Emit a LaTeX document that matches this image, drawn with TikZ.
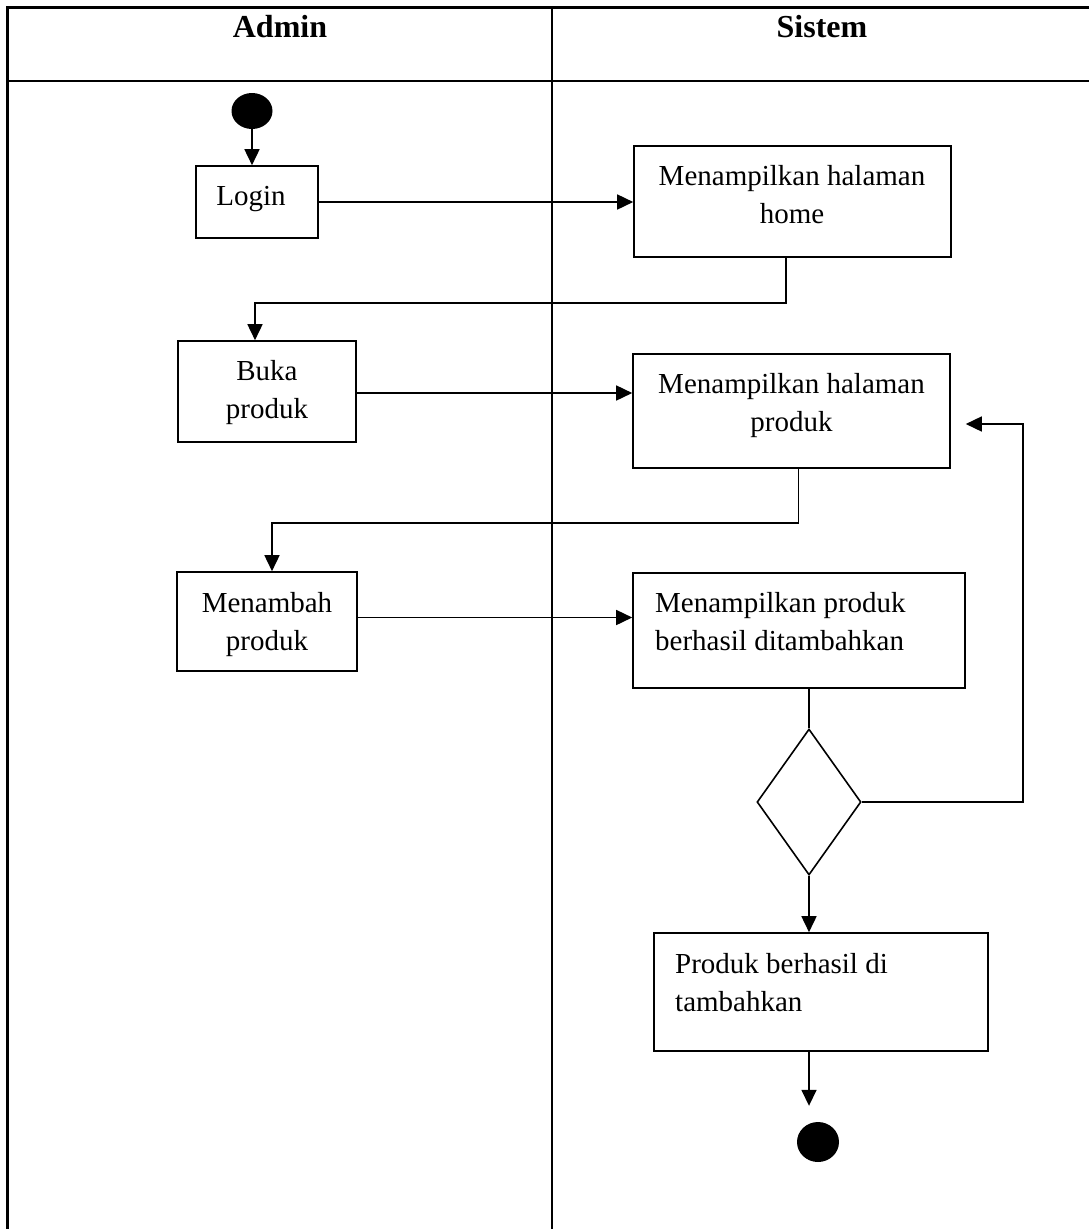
\documentclass[tikz,border=0pt]{standalone}
\usepackage{fontspec}
\setmainfont{Liberation Serif}
\usetikzlibrary{arrows.meta,shapes.geometric,calc}

% two-line labels whose baseline is the baseline of the first line
\newcommand\twoc[2]{\vtop{\baselineskip=38pt\halign{\hfil##\hfil\cr#1\cr#2\cr}}}
\newcommand\twol[2]{\vtop{\baselineskip=38pt\halign{##\hfil\cr#1\cr#2\cr}}}

\begin{document}
\begin{tikzpicture}[x=1pt,y=-1pt,
  lane/.style={line width=2.6pt},
  act/.style={draw,line width=1.6pt,inner sep=0pt},
  txt/.style={inner sep=0pt,font=\fontsize{29}{38}\selectfont},
  head/.style={inner sep=0pt,font=\fontsize{32}{38}\selectfont\bfseries},
  dot/.style={ellipse,fill=black,inner sep=0pt},
  choice/.style={diamond,draw,line width=1.6pt,inner sep=0pt},
  flow/.style={line width=1.6pt,-{Triangle[length=16pt,width=15pt]}},
  link/.style={line width=1.6pt}]

\useasboundingbox[fill=white] (0,0) rectangle (1089,1229);

% swimlane frame
\draw[lane] (7.5,1229) -- (7.5,7.5) -- (1089,7.5);
\draw[lane] (7.5,81) -- (1089,81);
\draw[lane] (552,7.5) -- (552,1229);
\node[head,anchor=base] (h-admin) at (280,37) {Admin};
\node[head,anchor=base] (h-sistem) at (822,37) {Sistem};

% activities
\node[dot,minimum width=41pt,minimum height=36pt] (start) at (252,111) {};
\node[act,minimum width=122pt,minimum height=72pt] (login) at (257,202) {};
\node[act,minimum width=317pt,minimum height=111pt] (home) at (792.5,201.5) {};
\node[act,minimum width=178pt,minimum height=101pt] (buka) at (267,391.5) {};
\node[act,minimum width=317pt,minimum height=114pt] (produk) at (791.5,411) {};
\node[act,minimum width=180pt,minimum height=99pt] (tambah) at (267,621.5) {};
\node[act,minimum width=332pt,minimum height=115pt] (tampil) at (799,630.5) {};
\node[choice,minimum width=104pt,minimum height=146pt] (dec) at (809,802) {};
\node[act,minimum width=334pt,minimum height=118pt] (hasil) at (821,992) {};
\node[dot,minimum width=42pt,minimum height=40pt] (stop) at (818,1142) {};

% labels
\node[txt,anchor=base] (t-login) at (251,205) {Login};
\node[txt,anchor=base] (t-home) at (792,185) {\twoc{Menampilkan halaman}{home}};
\node[txt,anchor=base] (t-buka) at (267,380) {\twoc{Buka}{produk}};
\node[txt,anchor=base] (t-produk) at (791.5,393) {\twoc{Menampilkan halaman}{produk}};
\node[txt,anchor=base] (t-tambah) at (267,612) {\twoc{Menambah}{produk}};
\node[txt,anchor=base west] (t-tampil) at (655,612) {\twol{Menampilkan produk}{berhasil ditambahkan}};
\node[txt,anchor=base west] (t-hasil) at (675,973) {\twol{Produk berhasil di}{tambahkan}};

% control flow
\draw[flow] (start.south) -- (start.south |- login.north);
\draw[flow] (login.east) -- (login.east -| home.west);
\draw[flow] ([xshift=-6.5pt]home.south) -- ++(0,45) -| ([xshift=-12pt]buka.north);
\draw[flow] ([yshift=-1.5pt]buka.east) -- ([yshift=-1.5pt]buka.east -| produk.west);
\draw[flow] ([xshift=7pt]produk.south) -- ++(0,54) -| ([xshift=5pt]tambah.north);
\draw[flow] ([yshift=4pt]tambah.east) -- ([yshift=4pt]tambah.east -| tampil.west);
\draw[link] (dec.north |- tampil.south) -- (dec.north);
\draw[flow] (dec.east) -| ([xshift=72pt,yshift=-13pt]produk.east) -- ([xshift=15pt,yshift=-13pt]produk.east);
\draw[flow] (dec.south) -- (dec.south |- hasil.north);
\draw[flow] (hasil.south -| dec.south) -- ([yshift=16pt]stop.north -| dec.south);
\end{tikzpicture}
\end{document}
